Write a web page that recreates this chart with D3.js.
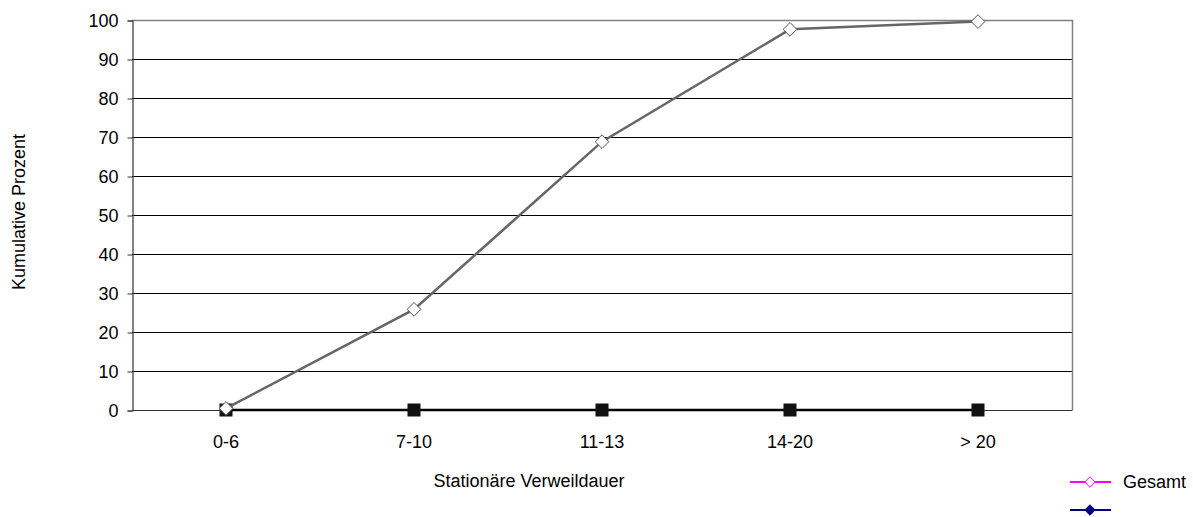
<!DOCTYPE html>
<html>
<head>
<meta charset="utf-8">
<script src="https://cdn.jsdelivr.net/npm/d3@7"></script>
<style>
  body { margin: 0; background: #fff; }
  svg { font-family: "Liberation Sans", Arial, sans-serif; }
</style>
</head>
<body>
<script>
// chart data
const categories = ["0-6", "7-10", "11-13", "14-20", "> 20"]
const gesamt = [0.4, 25.8, 68.8, 97.6, 99.6]
const second = [0, 0, 0, 0, 0]
const yTicks = [0, 10, 20, 30, 40, 50, 60, 70, 80, 90, 100]

const width = 1193
const height = 517
const pLeft = 132, pRight = 1072, pTop = 20, pBottom = 410
const fs = 18

const svg = d3.select("body")
    .append("svg")
    .attr("width", width)
    .attr("height", height)

const xScale = d3.scaleBand().domain(categories).range([pLeft, pRight])
const yScale = d3.scaleLinear().domain([0, 100]).range([pBottom, pTop])
const cx = d => xScale(d) + xScale.bandwidth() / 2

// gridlines
svg.append("g")
    .selectAll("line")
    .data(yTicks.filter(t => t > 0 && t < 100))
    .enter()
    .append("line")
    .attr("x1", pLeft).attr("x2", pRight)
    .attr("y1", d => Math.round(yScale(d)) + 0.5).attr("y2", d => Math.round(yScale(d)) + 0.5)
    .attr("stroke", "#000")
    .attr("stroke-width", 1)

// plot border (top + right gray)
svg.append("path")
    .attr("d", `M${pLeft},${pTop + 0.5}H${pRight + 0.5}V${pBottom}`)
    .attr("fill", "none")
    .attr("stroke", "#808080")
    .attr("stroke-width", 1.5)

// y axis
const yAxis = d3.axisLeft(yScale).tickValues(yTicks).tickSize(5).tickPadding(9)
const gy = svg.append("g")
    .attr("transform", `translate(${pLeft + 0.5},0.5)`)
    .call(yAxis)
gy.select(".domain").attr("stroke", "#333").attr("stroke-width", 1.2)
gy.selectAll(".tick line").attr("stroke", "#333")
gy.selectAll("text").attr("font-size", fs).attr("fill", "#000")
    .style("font-family", "Liberation Sans, Arial, sans-serif")

// x axis labels
const xAxis = d3.axisBottom(xScale).tickSize(0).tickPadding(25)
const gx = svg.append("g")
    .attr("transform", `translate(0,${pBottom})`)
    .call(xAxis)
gx.select(".domain").attr("stroke", "#333")
gx.selectAll("text").attr("font-size", fs).attr("fill", "#000")
    .style("font-family", "Liberation Sans, Arial, sans-serif")

// axis titles
svg.append("text")
    .attr("x", 529).attr("y", 487)
    .attr("text-anchor", "middle")
    .attr("font-size", fs)
    .text("Stationäre Verweildauer")

svg.append("text")
    .attr("transform", "translate(25,212) rotate(-90)")
    .attr("text-anchor", "middle")
    .attr("font-size", fs)
    .text("Kumulative Prozent")

// second series (black line with squares)
const line2 = d3.line().x((d, i) => cx(categories[i])).y(d => yScale(d))
svg.append("path")
    .datum(second)
    .attr("d", line2)
    .attr("fill", "none")
    .attr("stroke", "#000")
    .attr("stroke-width", 2.5)
svg.append("g")
    .selectAll("rect")
    .data(second)
    .enter()
    .append("rect")
    .attr("x", (d, i) => cx(categories[i]) - 6.5)
    .attr("y", d => yScale(d) - 6.5)
    .attr("width", 13).attr("height", 13)
    .attr("fill", "#111")

// gesamt series (gray line with white diamonds)
svg.append("path")
    .datum(gesamt)
    .attr("d", line2)
    .attr("fill", "none")
    .attr("stroke", "#666")
    .attr("stroke-width", 2.5)
const diamond = d3.symbol().type(d3.symbolDiamond2).size(120)
svg.append("g")
    .selectAll("path")
    .data(gesamt)
    .enter()
    .append("path")
    .attr("d", diamond)
    .attr("transform", (d, i) => `translate(${cx(categories[i])},${yScale(d)})`)
    .attr("fill", "#fff")
    .attr("stroke", "#555")
    .attr("stroke-width", 1)

// legend
const legend = svg.append("g")
legend.append("line")
    .attr("x1", 1070).attr("x2", 1111).attr("y1", 482).attr("y2", 482)
    .attr("stroke", "#ff00ff").attr("stroke-width", 2)
legend.append("path")
    .attr("d", d3.symbol().type(d3.symbolDiamond2).size(70))
    .attr("transform", "translate(1090,482)")
    .attr("fill", "#fff").attr("stroke", "#ff00ff").attr("stroke-width", 1)
legend.append("text")
    .attr("x", 1123).attr("y", 488)
    .attr("font-size", fs)
    .text("Gesamt")
legend.append("line")
    .attr("x1", 1070).attr("x2", 1111).attr("y1", 510).attr("y2", 510)
    .attr("stroke", "#000080").attr("stroke-width", 2)
legend.append("path")
    .attr("d", d3.symbol().type(d3.symbolDiamond2).size(70))
    .attr("transform", "translate(1090,510)")
    .attr("fill", "#000080").attr("stroke", "#000080")
</script>
</body>
</html>
